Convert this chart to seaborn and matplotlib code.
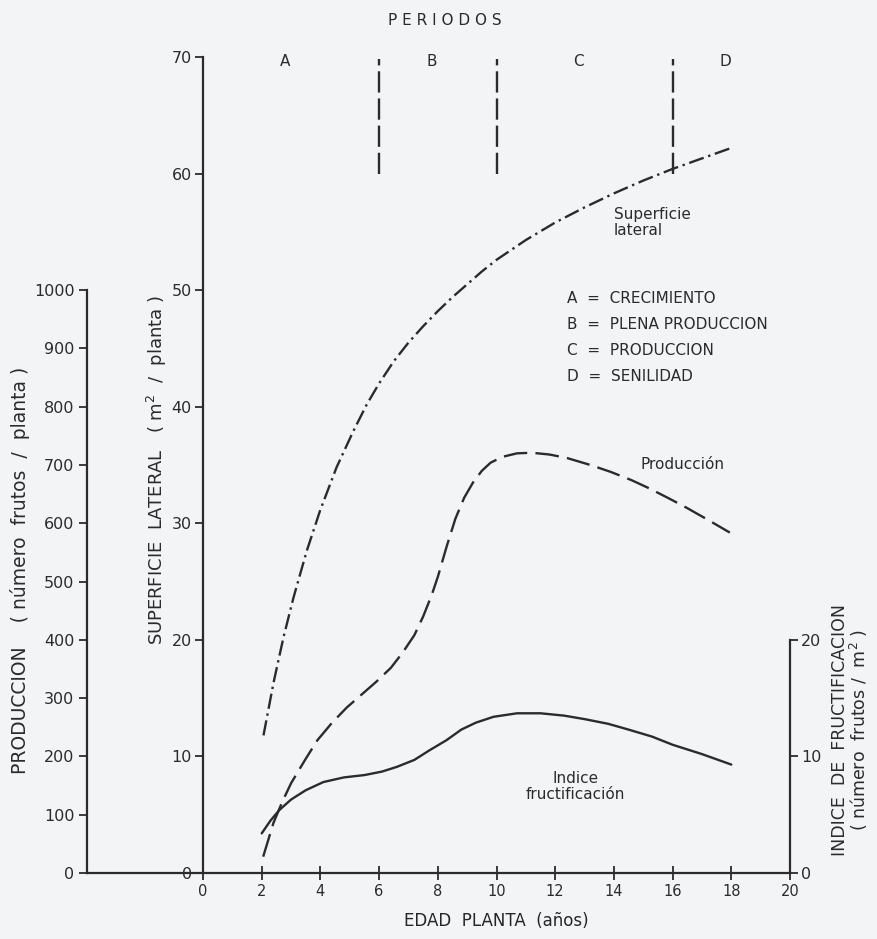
import numpy as np
import pandas as pd
import matplotlib
matplotlib.use("Agg")
import matplotlib.pyplot as plt
import seaborn as sns

# superficie lateral (m2 / planta)
sup_edad = [2.06, 2.40, 2.74, 3.08, 3.53, 3.99, 4.55, 5.12, 5.58, 6.0, 6.5, 7.0, 7.5, 8.0,
            8.5, 9.0, 9.5, 10.0, 11.0, 12.0, 13.0, 14.0, 15.0, 16.0, 17.0, 18.0]
sup_val = [11.8, 16.3, 20.2, 23.6, 27.6, 31.1, 34.8, 37.9, 40.2, 42.0, 43.9, 45.5, 46.9, 48.2,
           49.4, 50.5, 51.6, 52.6, 54.3, 55.8, 57.1, 58.3, 59.4, 60.4, 61.3, 62.2]

# produccion (numero frutos / planta)
prod_edad = [2.05, 2.4, 2.7, 3.0, 3.5, 3.9, 4.4, 4.9, 5.4, 5.9, 6.4, 6.8, 7.2, 7.5, 7.8,
             8.0, 8.3, 8.6, 8.9, 9.2, 9.5, 9.8, 10.2, 10.7, 11.2, 11.8, 12.4, 13.2, 13.9,
             14.6, 15.2, 15.9, 16.5, 17.2, 17.95]
prod_val = [28, 86, 122, 154, 196, 228, 258, 284, 306, 328, 352, 378, 408, 440, 478,
            508, 560, 608, 644, 670, 690, 704, 714, 720, 721, 718, 712, 700, 688,
            674, 660, 642, 626, 606, 584]

# indice de fructificacion (numero frutos / m2)
ind_edad = [2.0, 2.3, 2.6, 3.0, 3.5, 4.1, 4.8, 5.5, 6.1, 6.6, 7.2, 7.7, 8.3, 8.8, 9.3,
            9.9, 10.7, 11.5, 12.3, 13.0, 13.8, 14.5, 15.3, 16.0, 17.0, 18.0]
ind_val = [3.4, 4.5, 5.4, 6.3, 7.1, 7.8, 8.2, 8.4, 8.7, 9.1, 9.7, 10.5, 11.4, 12.3, 12.9,
           13.4, 13.7, 13.7, 13.5, 13.2, 12.8, 12.3, 11.7, 11.0, 10.2, 9.3]

period_bounds = [6, 10, 16]
period_letters = ["A", "B", "C", "D"]
period_centers = [2.8, 7.8, 12.8, 17.8]
period_names = ["A  =  CRECIMIENTO", "B  =  PLENA PRODUCCION",
                "C  =  PRODUCCION", "D  =  SENILIDAD"]

sns.set_style("ticks")
plt.rcParams['font.family'] = ['DejaVu Sans']
ink = '#2b2b2e'
paper = '#f3f4f6'
plt.rcParams['text.color'] = ink
plt.rcParams['axes.edgecolor'] = ink
plt.rcParams['xtick.color'] = ink
plt.rcParams['ytick.color'] = ink

fig = plt.figure(figsize=(8.77, 9.39), dpi=100, facecolor=paper)
ax = fig.add_axes([0.2315, 0.0703, 0.6693, 0.869])
ax.set_facecolor(paper)
ax.set_xlim(0, 20)
ax.set_ylim(0, 70)

lw = 1.7
sns.lineplot(x=sup_edad, y=sup_val, ax=ax, color=ink, linewidth=lw,
             linestyle=(0, (6.5, 2, 1, 2)), solid_joinstyle='round')

# produccion axis (outer left)
ax2 = ax.twinx()
ax2.set_ylim(0, 1400)
sns.lineplot(x=prod_edad, y=prod_val, ax=ax2, color=ink, linewidth=lw,
             linestyle=(0, (10, 3.5)))

# indice axis (right)
ax3 = ax.twinx()
ax3.set_ylim(0, 70)
sns.lineplot(x=ind_edad, y=ind_val, ax=ax3, color=ink, linewidth=lw,
             solid_joinstyle='round')

# period separators
ax.vlines(period_bounds, 60, 69.8, color=ink, linewidth=lw, linestyles=(0, (9, 2.5)))
for lab, xc in zip(period_letters, period_centers):
    ax.text(xc, 69.6, lab, ha='center', va='center', fontsize=11)
ax.text(8.25, 73.1, "P E R I O D O S", ha='center', va='center', fontsize=11, clip_on=False)

for i, name in enumerate(period_names):
    ax.text(12.4, 49.3 - i * 2.25, name, ha='left', va='center', fontsize=11)

ax.text(14.0, 55.8, "Superficie\nlateral", ha='left', va='center', fontsize=11, linespacing=1.1)
ax.text(14.9, 35.0, "Producción", ha='left', va='center', fontsize=11)
ax.text(12.7, 7.4, "Indice\nfructificación", ha='center', va='center', fontsize=11, linespacing=1.1)

# main axis styling
ax.spines['top'].set_visible(False)
ax.spines['right'].set_visible(False)
ax.spines['bottom'].set_bounds(-3.95, 20)
for s in ['left', 'bottom']:
    ax.spines[s].set_linewidth(1.6)
ax.set_xticks(range(0, 21, 2))
ax.set_yticks(range(0, 71, 10))
ax.tick_params(axis='x', direction='inout', length=10, width=1.3, labelsize=10.5, pad=3)
ax.tick_params(axis='y', direction='out', length=6, width=1.3, labelsize=11.5, pad=2)
ax.set_xlabel("EDAD  PLANTA  (años)", fontsize=12, labelpad=9)
ax.set_ylabel("")

for a in (ax2, ax3):
    a.set_facecolor('none')
    a.spines['top'].set_visible(False)
    a.spines['bottom'].set_visible(False)
    a.set_ylabel("")

ax2.spines['right'].set_visible(False)
ax2.spines['left'].set_visible(True)
ax2.spines['left'].set_position(('axes', -0.1976))
ax2.spines['left'].set_bounds(0, 1000)
ax2.spines['left'].set_linewidth(1.6)
ax2.yaxis.tick_left()
ax2.set_yticks(range(0, 1001, 100))
ax2.tick_params(axis='y', direction='out', length=6, width=1.3, labelsize=11.5, pad=3)

ax3.spines['left'].set_visible(False)
ax3.spines['right'].set_bounds(0, 20)
ax3.spines['right'].set_linewidth(1.6)
ax3.set_yticks([0, 10, 20])
ax3.tick_params(axis='y', direction='out', length=6, width=1.3, labelsize=11.5, pad=2)

fig.text(0.179, 0.4995, "SUPERFICIE  LATERAL   ( m$^2$  /  planta )", rotation=90,
         ha='center', va='center', fontsize=13)
fig.text(0.023, 0.393, "PRODUCCION    ( número  frutos  /  planta )", rotation=90,
         ha='center', va='center', fontsize=13.5)
fig.text(0.970, 0.2226, "INDICE  DE  FRUCTIFICACION\n( número  frutos /  m$^2$ )", rotation=90,
         ha='center', va='center', fontsize=12.5, linespacing=0.95)

fig.savefig("out.png", dpi=100, facecolor=paper)
